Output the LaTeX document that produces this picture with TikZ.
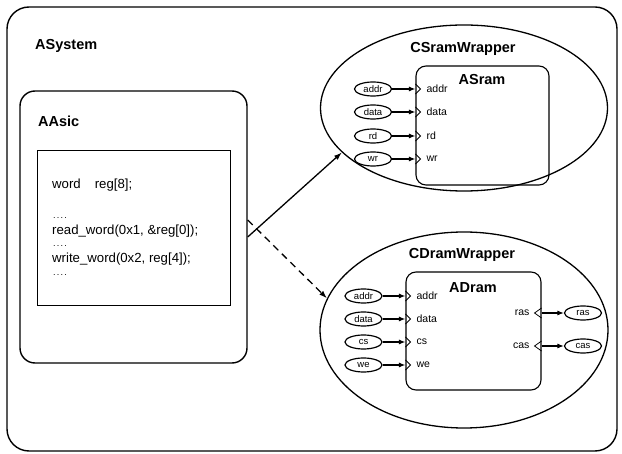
\documentclass[tikz,border=0pt]{standalone}
\usepackage{fontspec}
\setmainfont{Liberation Sans}
\usetikzlibrary{arrows.meta,shapes.geometric}
\begin{document}
\begin{tikzpicture}[x=1pt,y=-1pt,
  title/.style={font=\fontsize{14.5}{16}\selectfont\bfseries, inner sep=0pt},
  codeline/.style={font=\fontsize{13.2}{15}\selectfont, inner sep=0pt, anchor=west},
  dots/.style={font=\fontsize{9}{10}\selectfont, inner sep=0pt, anchor=west},
  bigbox/.style={draw, line width=1.4pt, rounded corners=#1, inner sep=0pt},
  wrapper/.style={draw, ellipse, line width=1.3pt, inner sep=0pt},
  portell/.style={draw, ellipse, line width=1.2pt, minimum width=37pt, minimum height=14pt, inner sep=0pt, font=\fontsize{9.5}{10}\selectfont},
  plabel/.style={font=\fontsize{10.5}{11}\selectfont, inner sep=0pt},
  chev/.style={line width=0.8pt},
  sig/.style={line width=1.1pt, -{Latex[length=6.5pt,width=5pt]}},
  bigarrow/.style={line width=1.3pt, -{Latex[length=8pt,width=5.5pt]}}
]
\useasboundingbox (0,0) rectangle (622,454);

% ASystem
\node[bigbox=22pt, minimum width=610pt, minimum height=444pt] (asystem) at (312,229) {};
\node[title, anchor=west] (asystemlbl) at (35,46) {ASystem};

% AAsic
\node[bigbox=15pt, minimum width=227pt, minimum height=272pt] (aasic) at (133.5,227) {};
\node[title, anchor=west] (aasiclbl) at (38,121) {AAsic};
\node[draw, line width=1pt, minimum width=193pt, minimum height=155pt, inner sep=0pt] (code) at (133.5,228.5) {};
\node[codeline] (c1) at (52,185) {word\hspace{14pt}reg[8];};
\node[dots] (c2) at (53,218) {.\kern1.2pt.\kern1.2pt.\kern1.2pt.};
\node[codeline] (c3) at (52,231) {read\_word(0x1, \&reg[0]);};
\node[dots] (c4) at (53,246) {.\kern1.2pt.\kern1.2pt.\kern1.2pt.};
\node[codeline] (c5) at (52,259) {write\_word(0x2, reg[4]);};
\node[dots] (c6) at (53,275) {.\kern1.2pt.\kern1.2pt.\kern1.2pt.};

% CSramWrapper
\node[wrapper, minimum width=287pt, minimum height=166pt] (csw) at (464,108) {};
\node[title] (cswlbl) at (463,49) {CSramWrapper};
\node[bigbox=10pt, line width=1.1pt, minimum width=133pt, minimum height=119pt] (asram) at (482.5,125.5) {};
\node[title] (asramlbl) at (482,80) {ASram};

\foreach \n/\t/\yy in {sa/addr/89, sd/data/112, sr/rd/136, sw/wr/159}{
  \node[portell] (\n) at (373,\yy) {\t};
  \coordinate (\n p) at (asram.west |- \n);
  \draw[chev] ([yshift=-5pt]\n p) -- ([xshift=5pt]\n p) -- ([yshift=5pt]\n p);
  \draw[sig] (\n) -- (\n p);
  \node[plabel, anchor=west] (\n l) at ([xshift=11pt]\n p) {\t};
}

% CDramWrapper
\node[wrapper, minimum width=288pt, minimum height=196pt] (cdw) at (464,330) {};
\node[title] (cdwlbl) at (462,255) {CDramWrapper};
\node[bigbox=10pt, line width=1.1pt, minimum width=135pt, minimum height=118pt] (adram) at (473.5,331) {};
\node[title] (adramlbl) at (473,288) {ADram};

\foreach \n/\t/\yy in {da/addr/296, dd/data/319, dc/cs/342, dw/we/365}{
  \node[portell] (\n) at (363.5,\yy) {\t};
  \coordinate (\n p) at (adram.west |- \n);
  \draw[chev] ([yshift=-5pt]\n p) -- ([xshift=5pt]\n p) -- ([yshift=5pt]\n p);
  \draw[sig] (\n) -- (\n p);
  \node[plabel, anchor=west] (\n l) at ([xshift=11pt]\n p) {\t};
}
\foreach \n/\t/\yy in {dr/ras/313, dk/cas/346}{
  \node[portell] (\n) at (583,\yy) {\t};
  \coordinate (\n p) at (adram.east |- \n);
  \draw[chev] ([yshift=-5pt]\n p) -- ([xshift=-7pt]\n p) -- ([yshift=5pt]\n p);
  \draw[sig] (\n p) -- (\n);
  \node[plabel, anchor=east] (\n l) at ([xshift=-12pt]\n p) {\t};
}

% main connectors
\coordinate (from1) at (aasic.east |- 0,237);
\coordinate (from2) at (aasic.east |- 0,220);
\draw[bigarrow] (from1) -- (csw.200);
\draw[bigarrow, dash pattern=on 7pt off 5pt] (from2) -- (cdw.167);
\end{tikzpicture}
\end{document}
